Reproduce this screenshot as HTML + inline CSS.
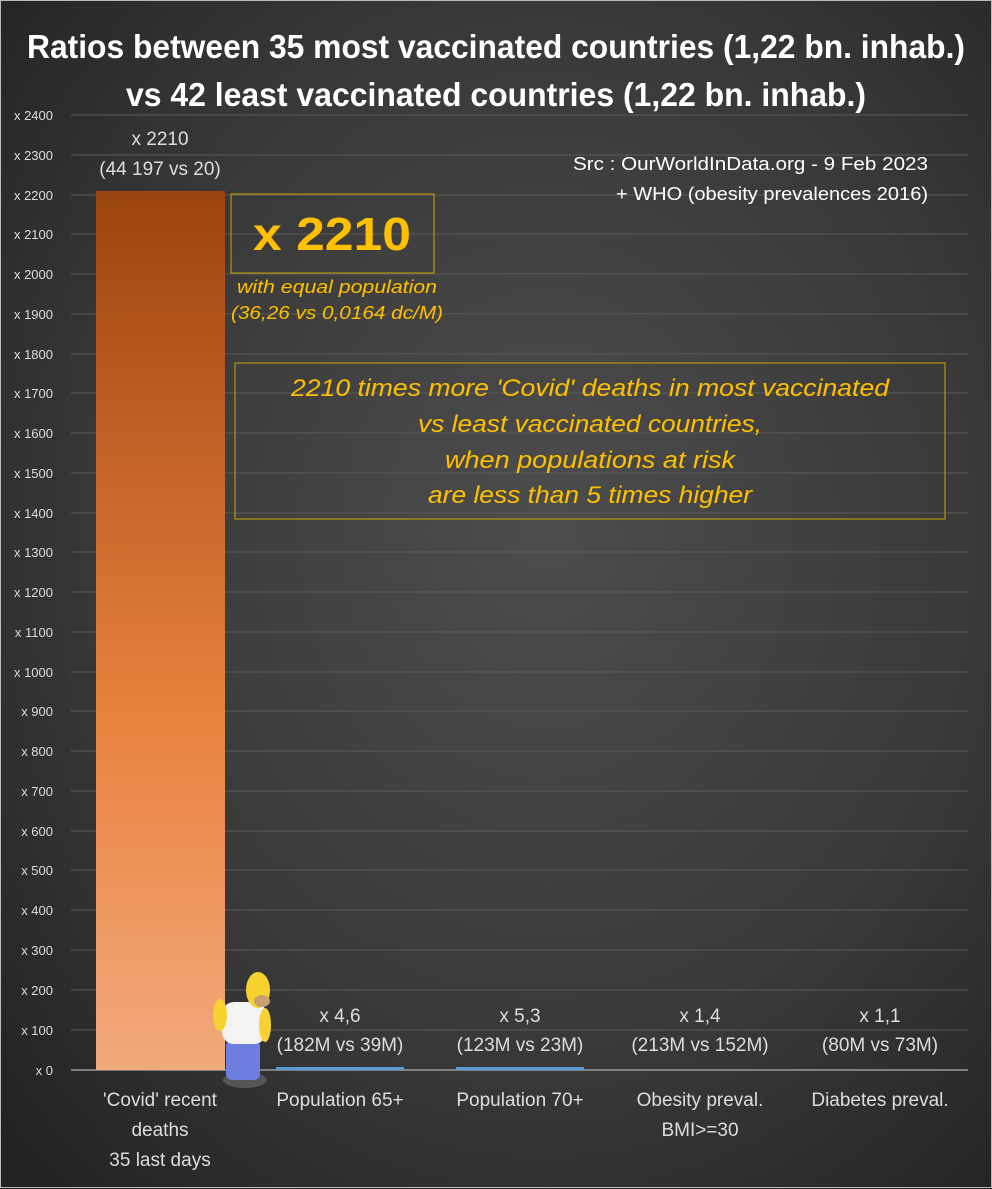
<!DOCTYPE html>
<html><head><meta charset="utf-8"><style>
html,body{margin:0;padding:0;background:#2a2a2a;}
svg{display:block;}
text{font-family:"Liberation Sans",sans-serif;}
</style></head><body>
<svg width="992" height="1189" viewBox="0 0 992 1189" xmlns="http://www.w3.org/2000/svg">
<defs>
<radialGradient id="bg" cx="0.55" cy="0.45" r="0.75">
<stop offset="0" stop-color="#4d4d4d"/>
<stop offset="0.6" stop-color="#383838"/>
<stop offset="1" stop-color="#222"/>
</radialGradient>
<linearGradient id="bar" x1="0" y1="0" x2="0" y2="1">
<stop offset="0" stop-color="#9c440f"/>
<stop offset="0.6" stop-color="#e9823e"/>
<stop offset="1" stop-color="#f2aa7c"/>
</linearGradient>
</defs>
<rect width="992" height="1189" fill="url(#bg)"/>
<rect x="0.5" y="0.5" width="991" height="1187" fill="none" stroke="#bbb" stroke-width="1"/>
<g fill="#fff" font-weight="bold" font-size="33" text-anchor="middle">
<text x="496" y="58" textLength="938" lengthAdjust="spacingAndGlyphs">Ratios between 35 most vaccinated countries (1,22 bn. inhab.)</text>
<text x="496" y="106" textLength="740" lengthAdjust="spacingAndGlyphs">vs 42 least vaccinated countries (1,22 bn. inhab.)</text>
</g>
<g stroke="#5a5a5a" stroke-width="1">
<line x1="71" x2="968" y1="115" y2="115"/><line x1="71" x2="968" y1="155" y2="155"/><line x1="71" x2="968" y1="195" y2="195"/><line x1="71" x2="968" y1="234" y2="234"/><line x1="71" x2="968" y1="274" y2="274"/><line x1="71" x2="968" y1="314" y2="314"/><line x1="71" x2="968" y1="354" y2="354"/><line x1="71" x2="968" y1="393" y2="393"/><line x1="71" x2="968" y1="433" y2="433"/><line x1="71" x2="968" y1="473" y2="473"/><line x1="71" x2="968" y1="513" y2="513"/><line x1="71" x2="968" y1="552" y2="552"/><line x1="71" x2="968" y1="592" y2="592"/><line x1="71" x2="968" y1="632" y2="632"/><line x1="71" x2="968" y1="672" y2="672"/><line x1="71" x2="968" y1="711" y2="711"/><line x1="71" x2="968" y1="751" y2="751"/><line x1="71" x2="968" y1="791" y2="791"/><line x1="71" x2="968" y1="831" y2="831"/><line x1="71" x2="968" y1="870" y2="870"/><line x1="71" x2="968" y1="910" y2="910"/><line x1="71" x2="968" y1="950" y2="950"/><line x1="71" x2="968" y1="990" y2="990"/><line x1="71" x2="968" y1="1030" y2="1030"/>
</g>
<line x1="71" x2="968" y1="1070" y2="1070" stroke="#999" stroke-width="1.5"/>
<g fill="#ddd" font-size="13" text-anchor="end">
<text x="53" y="120">x 2400</text><text x="53" y="160">x 2300</text><text x="53" y="200">x 2200</text><text x="53" y="239">x 2100</text><text x="53" y="279">x 2000</text><text x="53" y="319">x 1900</text><text x="53" y="359">x 1800</text><text x="53" y="398">x 1700</text><text x="53" y="438">x 1600</text><text x="53" y="478">x 1500</text><text x="53" y="518">x 1400</text><text x="53" y="557">x 1300</text><text x="53" y="597">x 1200</text><text x="53" y="637">x 1100</text><text x="53" y="677">x 1000</text><text x="53" y="716">x 900</text><text x="53" y="756">x 800</text><text x="53" y="796">x 700</text><text x="53" y="836">x 600</text><text x="53" y="875">x 500</text><text x="53" y="915">x 400</text><text x="53" y="955">x 300</text><text x="53" y="995">x 200</text><text x="53" y="1035">x 100</text><text x="53" y="1075">x 0</text>
</g>
<rect x="96" y="191" width="129" height="879" fill="url(#bar)"/>
<g fill="#5b9bd5"><rect x="276" y="1067" width="128" height="3"/><rect x="456" y="1067" width="128" height="3"/></g>
<g fill="#ddd" font-size="19" text-anchor="middle">
<text x="160" y="145">x 2210</text><text x="160" y="175">(44 197 vs 20)</text>
<text x="340" y="1022">x 4,6</text><text x="340" y="1051">(182M vs 39M)</text>
<text x="520" y="1022">x 5,3</text><text x="520" y="1051">(123M vs 23M)</text>
<text x="700" y="1022">x 1,4</text><text x="700" y="1051">(213M vs 152M)</text>
<text x="880" y="1022">x 1,1</text><text x="880" y="1051">(80M vs 73M)</text>
<text x="160" y="1106">'Covid' recent</text><text x="160" y="1136">deaths</text><text x="160" y="1166">35 last days</text>
<text x="340" y="1106">Population 65+</text>
<text x="520" y="1106">Population 70+</text>
<text x="700" y="1106">Obesity preval.</text><text x="700" y="1136">BMI&gt;=30</text>
<text x="880" y="1106">Diabetes preval.</text>
</g>
<g fill="#fff" font-size="18" text-anchor="end">
<text x="928" y="170" textLength="355" lengthAdjust="spacingAndGlyphs">Src : OurWorldInData.org - 9 Feb 2023</text>
<text x="928" y="200" textLength="312" lengthAdjust="spacingAndGlyphs">+ WHO (obesity prevalences 2016)</text>
</g>
<rect x="231" y="194" width="203" height="79" fill="none" stroke="#b8940e" stroke-width="1.2"/>
<text x="332" y="250" fill="#ffc000" font-size="46" font-weight="bold" text-anchor="middle" textLength="158" lengthAdjust="spacingAndGlyphs">x 2210</text>
<g fill="#ffc000" font-size="18" font-style="italic" text-anchor="middle">
<text x="337" y="293" textLength="200" lengthAdjust="spacingAndGlyphs">with equal population</text>
<text x="337" y="319" textLength="212" lengthAdjust="spacingAndGlyphs">(36,26 vs 0,0164 dc/M)</text>
</g>
<rect x="235" y="363" width="710" height="156" fill="none" stroke="#b8940e" stroke-width="1.2"/>
<g fill="#ffc000" font-size="24" font-style="italic" text-anchor="middle">
<text x="590" y="396" textLength="598" lengthAdjust="spacingAndGlyphs">2210 times more 'Covid' deaths in most vaccinated</text>
<text x="590" y="432" textLength="344" lengthAdjust="spacingAndGlyphs">vs least vaccinated countries,</text>
<text x="590" y="468" textLength="290" lengthAdjust="spacingAndGlyphs">when populations at risk</text>
<text x="590" y="503" textLength="324" lengthAdjust="spacingAndGlyphs">are less than 5 times higher</text>
</g>
<g>
<ellipse cx="245" cy="1080" rx="22" ry="8" fill="#555"/>
<rect x="226" y="1040" width="34" height="40" rx="6" fill="#6f7fe0"/>
<rect x="222" y="1002" width="44" height="42" rx="12" fill="#f4f4f4"/>
<ellipse cx="220" cy="1015" rx="7" ry="16" fill="#f7d230"/>
<ellipse cx="265" cy="1025" rx="6" ry="17" fill="#f7d230"/>
<ellipse cx="258" cy="990" rx="12" ry="18" fill="#f7d230"/>
<ellipse cx="262" cy="1001" rx="8" ry="6" fill="#c8a070"/>
</g>
</svg>
</body></html>
